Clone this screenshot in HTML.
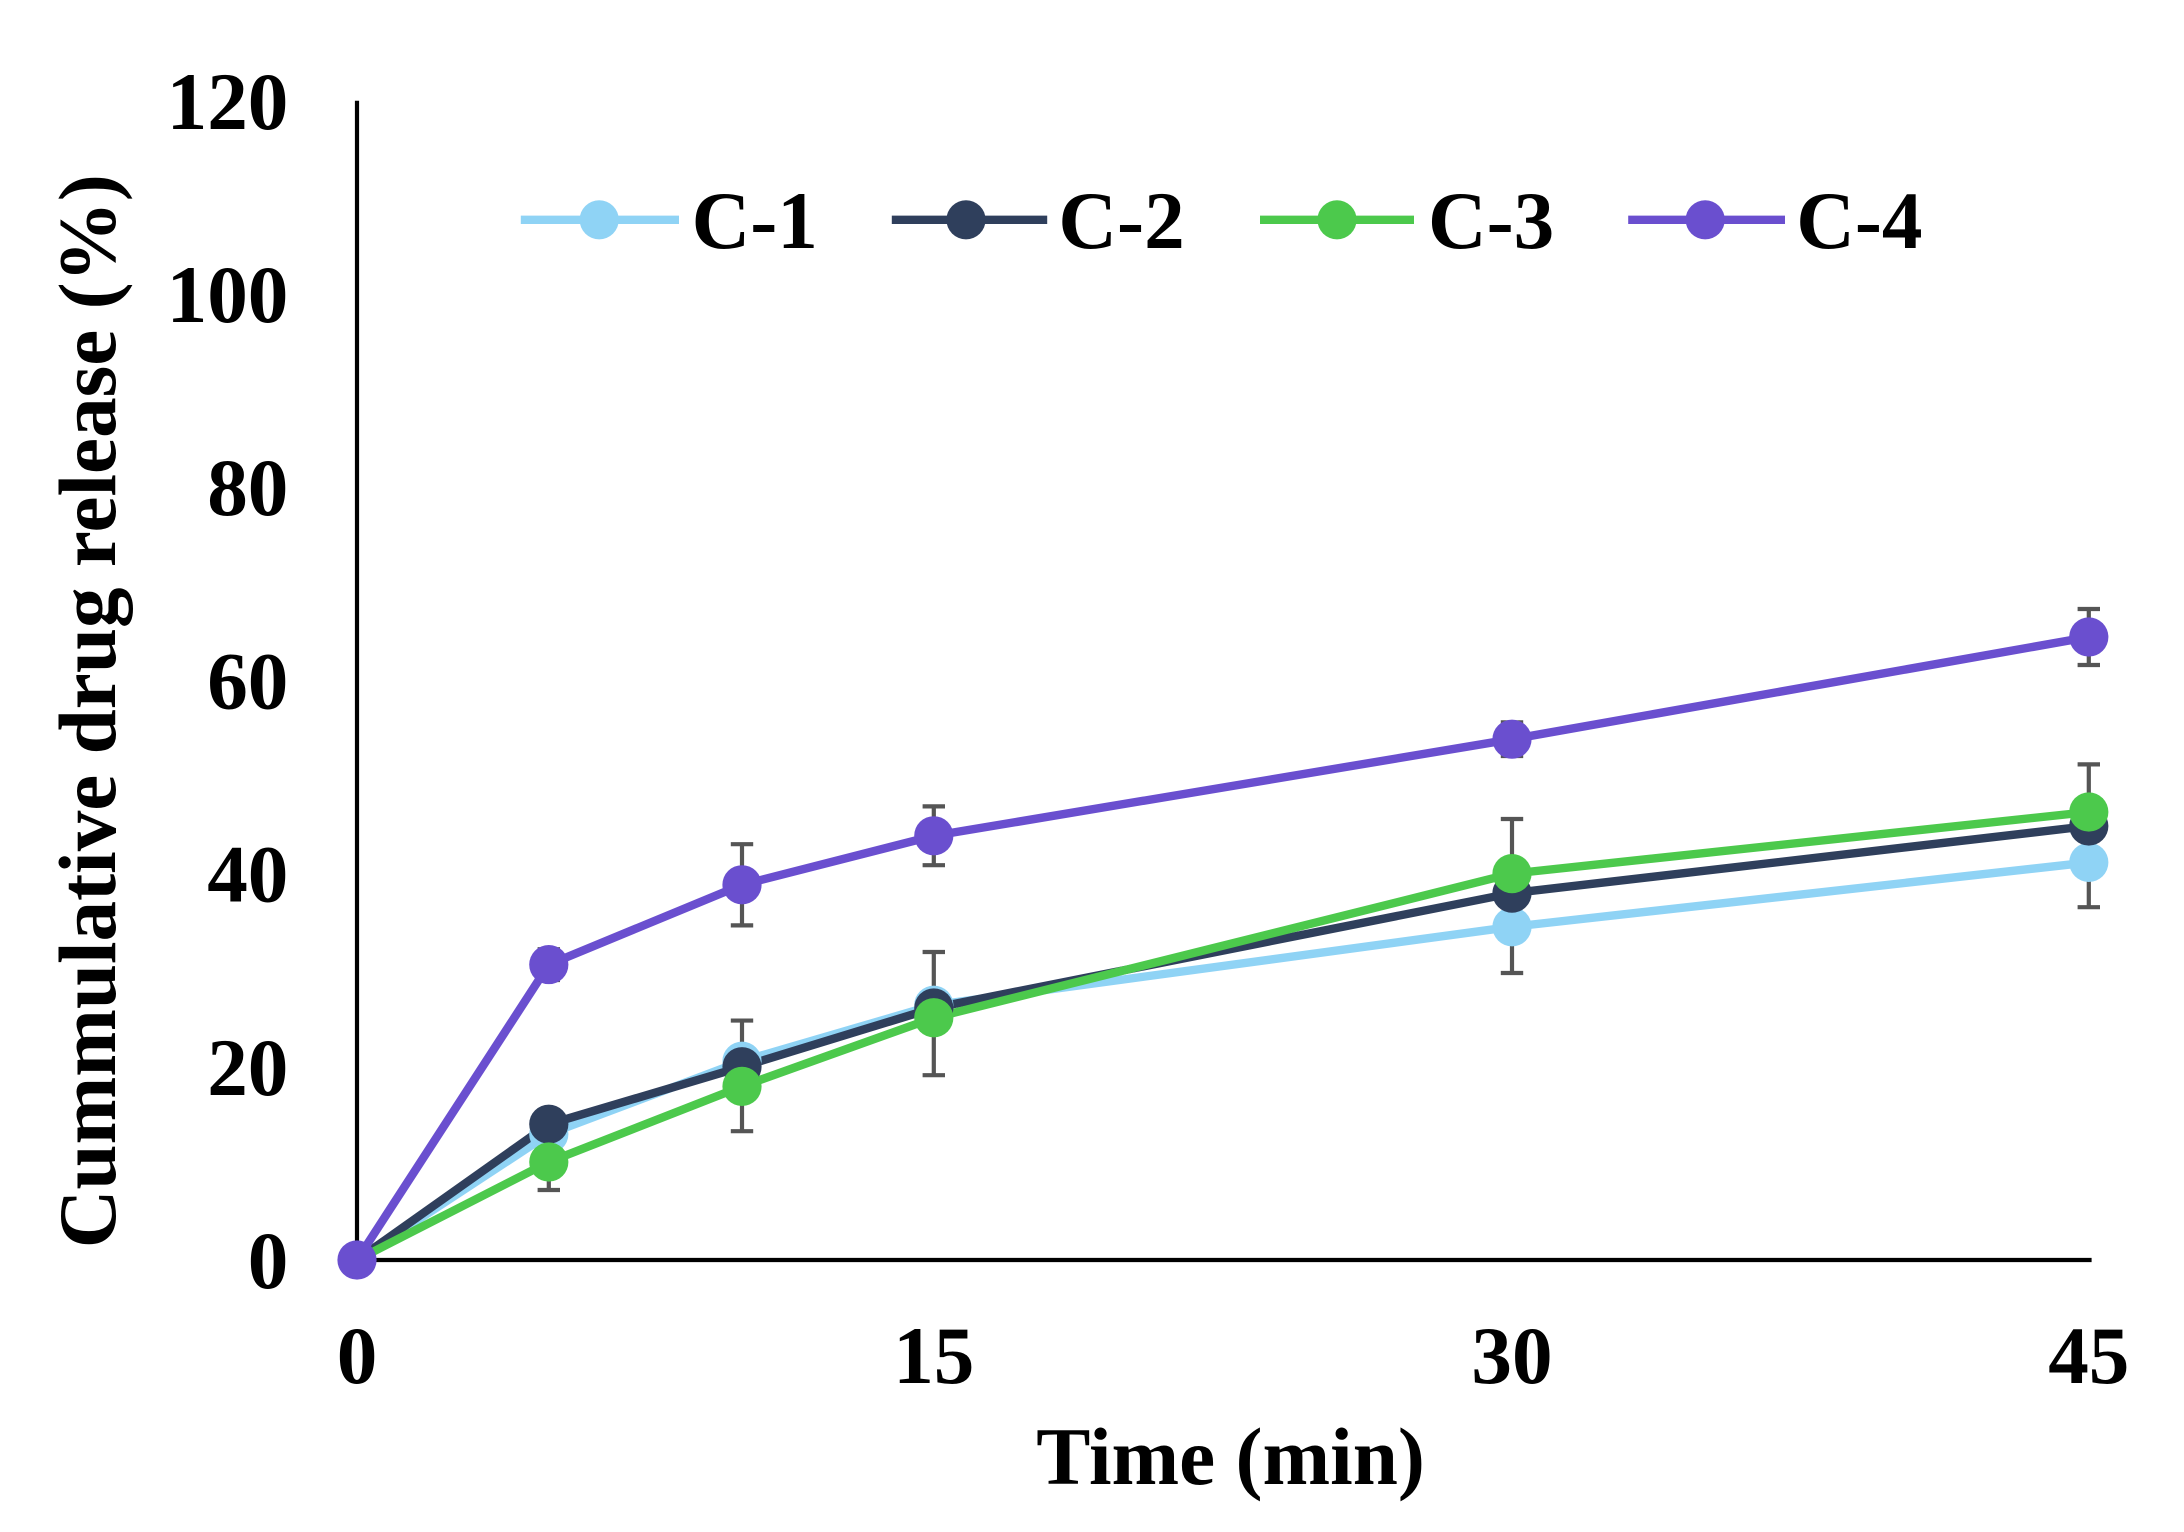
<!DOCTYPE html>
<html><head><meta charset="utf-8"><style>
html,body{margin:0;padding:0;background:#fff;}
svg{display:block;}
text{font-family:"Liberation Serif",serif;font-weight:bold;fill:#000;}
</style></head><body>
<svg width="2184" height="1532" viewBox="0 0 1560 1094.3" preserveAspectRatio="none" xmlns="http://www.w3.org/2000/svg">
<rect width="1560" height="1094.3" fill="#fff"/>
<line x1="255" y1="72" x2="255" y2="901" stroke="#000" stroke-width="3"/>
<line x1="254" y1="900" x2="1494" y2="900" stroke="#000" stroke-width="3"/>
<g font-size="58" text-anchor="end">
<text x="206" y="920">0</text>
<text x="206" y="782">20</text>
<text x="206" y="644">40</text>
<text x="206" y="506">60</text>
<text x="206" y="368">80</text>
<text x="206" y="230">100</text>
<text x="206" y="92">120</text>
</g>
<g font-size="58" text-anchor="middle">
<text x="255" y="988">0</text>
<text x="667" y="988">15</text>
<text x="1080" y="988">30</text>
<text x="1492" y="988">45</text>
<text x="879" y="1060">Time (min)</text>
</g>
<text font-size="58" text-anchor="middle" transform="translate(82,508) rotate(-90)">Cummulative drug release (%)</text>
<g stroke="#555" stroke-width="3" fill="none">
<path d="M392 793V850M384 793h16M384 850h16"/>
<path d="M530 729V808M522 729h16M522 808h16"/>
<path d="M667 680V768M659 680h16M659 768h16"/>
<path d="M1080 585V695M1072 585h16M1072 695h16"/>
<path d="M1492 546V648M1484 546h16M1484 648h16"/>
<path d="M392 678V700M384 678h16M384 700h16"/>
<path d="M530 603V661M522 603h16M522 661h16"/>
<path d="M667 576V618M659 576h16M659 618h16"/>
<path d="M1080 516V540M1072 516h16M1072 540h16"/>
<path d="M1492 435V475M1484 435h16M1484 475h16"/>
</g>
<g stroke-width="6" fill="none" stroke-linejoin="round">
<polyline stroke="#8fd3f5" points="255,900 392,810 530,758 667,718 1080,662 1492,616"/>
<polyline stroke="#2f3f5c" points="255,900 392,803 530,762 667,720 1080,638 1492,590"/>
<polyline stroke="#4cc94c" points="255,900 392,830 530,776 667,727 1080,624 1492,580"/>
<polyline stroke="#6a4fcf" points="255,900 392,689 530,632 667,597 1080,528 1492,455"/>
</g>
<g fill="#8fd3f5"><circle cx="392" cy="810" r="14"/><circle cx="530" cy="758" r="14"/><circle cx="667" cy="718" r="14"/><circle cx="1080" cy="662" r="14"/><circle cx="1492" cy="616" r="14"/></g>
<g fill="#2f3f5c"><circle cx="392" cy="803" r="14"/><circle cx="530" cy="762" r="14"/><circle cx="667" cy="720" r="14"/><circle cx="1080" cy="638" r="14"/><circle cx="1492" cy="590" r="14"/></g>
<g fill="#4cc94c"><circle cx="392" cy="830" r="14"/><circle cx="530" cy="776" r="14"/><circle cx="667" cy="727" r="14"/><circle cx="1080" cy="624" r="14"/><circle cx="1492" cy="580" r="14"/></g>
<g fill="#6a4fcf"><circle cx="255" cy="900" r="14"/><circle cx="392" cy="689" r="14"/><circle cx="530" cy="632" r="14"/><circle cx="667" cy="597" r="14"/><circle cx="1080" cy="528" r="14"/><circle cx="1492" cy="455" r="14"/></g>
<g stroke-width="6">
<line x1="372" y1="157" x2="485" y2="157" stroke="#8fd3f5"/><circle cx="428" cy="157" r="14" fill="#8fd3f5"/>
<line x1="637" y1="157" x2="748" y2="157" stroke="#2f3f5c"/><circle cx="690" cy="157" r="14" fill="#2f3f5c"/>
<line x1="900" y1="157" x2="1010" y2="157" stroke="#4cc94c"/><circle cx="955" cy="157" r="14" fill="#4cc94c"/>
<line x1="1163" y1="157" x2="1275" y2="157" stroke="#6a4fcf"/><circle cx="1218" cy="157" r="14" fill="#6a4fcf"/>
</g>
<g font-size="58">
<text x="494" y="177">C-1</text>
<text x="756" y="177">C-2</text>
<text x="1020" y="177">C-3</text>
<text x="1283" y="177">C-4</text>
</g>
</svg>
</body></html>
